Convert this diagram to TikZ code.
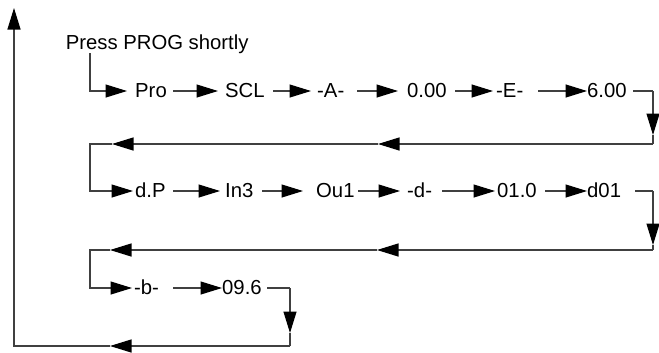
\documentclass[tikz,border=0pt]{standalone}
\usepackage{fontspec}
\setmainfont{Liberation Sans}
\usetikzlibrary{arrows.meta}
\begin{document}
\begin{tikzpicture}[x=1bp,y=-1bp,
  lbl/.style={inner sep=0pt, anchor=west, text height=14bp, text depth=1bp,
    font=\fontsize{20.3bp}{23bp}\selectfont},
  ln/.style={draw=black!75, line width=1.15bp},
  tip/.style={ln, -{Triangle[length=21.5bp,width=13bp,color=black]}},
]
\useasboundingbox (0,0) rectangle (659,352);

% labels
\node[lbl] (press) at (65.6,42.5) {Press PROG shortly};
\node[lbl] (pro)  at (135,91) {Pro};
\node[lbl] (scl)  at (225,91) {SCL};
\node[lbl] (aa)   at (317,91) {-A-};
\node[lbl] (zero) at (407,91) {0.00};
\node[lbl] (ee)   at (496,91) {-E-};
\node[lbl] (six)  at (587,91) {6.00};

\node[lbl] (dp)   at (135,191) {d.P};
\node[lbl] (inn)  at (225,191) {In3};
\node[lbl] (ou)   at (316,191) {Ou1};
\node[lbl] (dd)   at (407,191) {-d-};
\node[lbl] (ten)  at (497,191) {01.0};
\node[lbl] (dzo)  at (587,191) {d01};

\node[lbl] (bb)   at (134,288) {-b-};
\node[lbl] (nine) at (222,288) {09.6};

% corner and tip coordinates
\coordinate (k0) at (90,53);
\coordinate (r1) at (653,91);
\coordinate (r1d) at (653,135);
\coordinate (r1b) at (653,144);
\coordinate (m1a) at (378,144);
\coordinate (m1b) at (112,144);
\coordinate (l1) at (90,144);

\coordinate (r2) at (653,191);
\coordinate (r2d) at (653,245);
\coordinate (r2b) at (653,250);
\coordinate (m2a) at (377,250);
\coordinate (m2b) at (110,250);
\coordinate (l2) at (90,250);

\coordinate (r3) at (290,288);
\coordinate (r3d) at (290,333);
\coordinate (r3b) at (290,346);
\coordinate (m3) at (110,346);
\coordinate (l3) at (14,346);
\coordinate (top) at (14,8);

% row 1
\draw[tip, shorten >=8bp] (k0) |- (pro);
\draw[tip, shorten <=6.2bp, shorten >=7bp] (pro) -- (scl);
\draw[tip, shorten <=8.5bp, shorten >=6bp] (scl) -- (aa);
\draw[tip, shorten <=12.9bp, shorten >=9bp] (aa) -- (zero);
\draw[tip, shorten <=8.5bp, shorten >=3bp] (zero) -- (ee);
\draw[tip, shorten <=14.9bp, shorten >=0bp] (ee) -- (six);
\draw[ln, shorten <=6.5bp] (six) -- (r1);
\draw[tip] (r1) -- (r1d);
\draw[ln] (r1d) -- (r1b);
\draw[tip] (r1b) -- (m1a);
\draw[tip] (m1a) -- (m1b);
\draw[tip, shorten >=2bp] (m1b) -- (l1) |- (dp);

% row 2
\draw[tip, shorten <=7.5bp, shorten >=5bp] (dp) -- (inn);
\draw[tip, shorten <=8.8bp, shorten >=13bp] (inn) -- (ou);
\draw[tip, shorten <=3.7bp, shorten >=7bp] (ou) -- (dd);
\draw[tip, shorten <=10.2bp, shorten >=2bp] (dd) -- (ten);
\draw[tip, shorten <=8.5bp, shorten >=0bp] (ten) -- (dzo);
\draw[ln, shorten <=14.2bp] (dzo) -- (r2);
\draw[tip] (r2) -- (r2d);
\draw[ln] (r2d) -- (r2b);
\draw[tip] (r2b) -- (m2a);
\draw[tip] (m2a) -- (m2b);
\draw[tip, shorten >=2bp] (m2b) -- (l2) |- (bb);

% row 3
\draw[tip, shorten <=14.2bp, shorten >=0bp] (bb) -- (nine);
\draw[ln, shorten <=5.5bp] (nine) -- (r3);
\draw[tip] (r3) -- (r3d);
\draw[ln] (r3d) -- (r3b);
\draw[tip] (r3b) -- (m3);
\draw[tip] (m3) -- (l3) -- (top);
\end{tikzpicture}
\end{document}
